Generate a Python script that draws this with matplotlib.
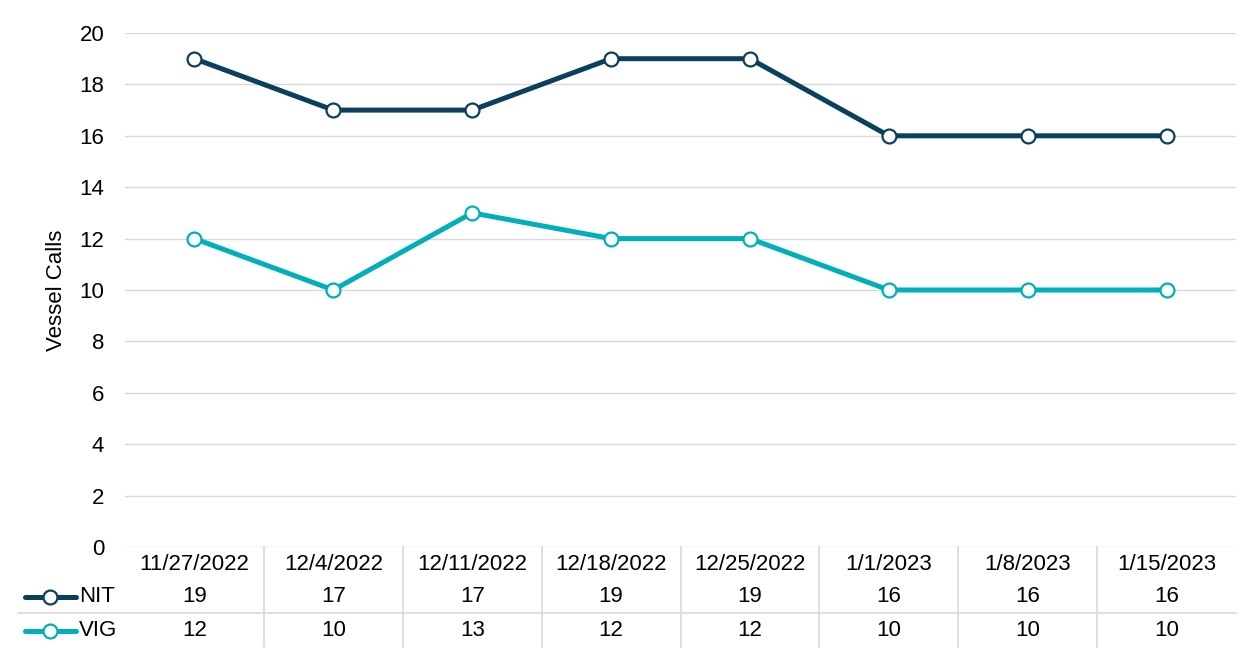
import matplotlib
matplotlib.use("Agg")
import matplotlib.pyplot as plt
from matplotlib.lines import Line2D
from matplotlib.transforms import blended_transform_factory

plt.rcParams.update({
    "font.family": ["Liberation Sans", "DejaVu Sans"],
    "font.size": 16,
})

# data
weeks = ["11/27/2022", "12/4/2022", "12/11/2022", "12/18/2022",
         "12/25/2022", "1/1/2023", "1/8/2023", "1/15/2023"]
nit = [19, 17, 17, 19, 19, 16, 16, 16]
vig = [12, 10, 13, 12, 12, 10, 10, 10]
y_ticks = [0, 2, 4, 6, 8, 10, 12, 14, 16, 18, 20]

NIT_COLOR = "#0B3F5E"
VIG_COLOR = "#00AFB9"
GRID = "#D9D9D9"

W, H = 1253, 666
fig = plt.figure(figsize=(W / 100, H / 100), dpi=100)
ax = fig.add_axes([125 / W, 1 - 547 / H, (1236 - 125) / W, (547 - 33) / H])

x = list(range(len(weeks)))
for vals, col in [(nit, NIT_COLOR), (vig, VIG_COLOR)]:
    ax.plot(x, vals, color=col, lw=3.6, marker="o", ms=10,
            mfc="white", mec=col, mew=1.6, zorder=3, clip_on=False)

ax.set_xlim(-0.5, len(weeks) - 0.5)
ax.set_ylim(0, 20)
ax.set_yticks(y_ticks)
ax.set_xticks([])
ax.grid(axis="y", color=GRID, lw=1)
ax.set_axisbelow(True)
for s in ax.spines.values():
    s.set_visible(False)
ax.tick_params(axis="y", length=0, pad=15)
ax.set_ylabel("Vessel Calls", fontsize=16, labelpad=9)

# data table below the plot
tr = blended_transform_factory(ax.transData, fig.transFigure)
fy = lambda py: 1 - py / H
for i, wk in enumerate(weeks):
    ax.text(i, fy(564), wk, transform=tr, ha="center", va="center")
    ax.text(i, fy(597), str(nit[i]), transform=tr, ha="center", va="center")
    ax.text(i, fy(631), str(vig[i]), transform=tr, ha="center", va="center")

for b in range(1, len(weeks)):
    fig.add_artist(Line2D([b - 0.5, b - 0.5], [fy(547), fy(647)],
                          transform=tr, color=GRID, lw=1.2))
fig.add_artist(Line2D([18 / W, 1236 / W], [fy(613), fy(613)],
                      transform=fig.transFigure, color=GRID, lw=1.2))

# legend keys in table
for py, col, name in [(597, NIT_COLOR, "NIT"), (631, VIG_COLOR, "VIG")]:
    fig.add_artist(Line2D([25 / W, 76 / W], [fy(py), fy(py)],
                          transform=fig.transFigure, color=col, lw=3.6,
                          solid_capstyle="round"))
    fig.add_artist(Line2D([50 / W], [fy(py)], transform=fig.transFigure,
                          marker="o", ms=10, mfc="white", mec=col, mew=1.6))
    fig.text(79 / W, fy(py), name, ha="left", va="center")

fig.savefig("out.png", dpi=100)
